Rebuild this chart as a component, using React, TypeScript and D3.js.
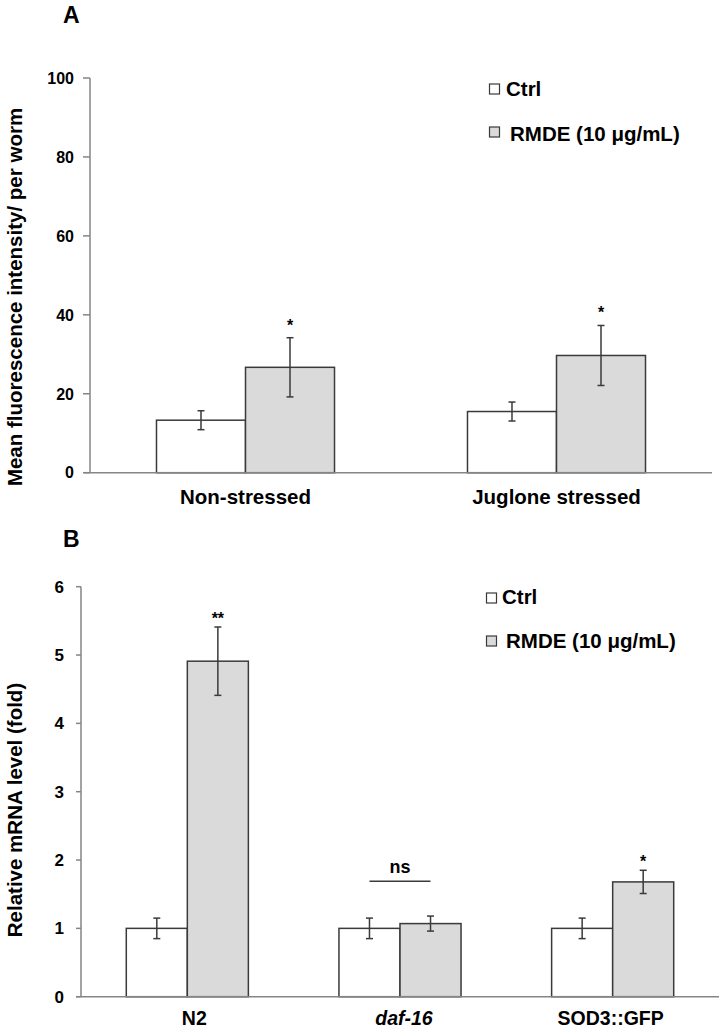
import React from "react";
import * as d3 from "d3";

// ---------- Data ----------
const seriesNames = ["Ctrl", "RMDE (10 μg/mL)"];
const seriesFill = ["#ffffff", "#dadada"];

const categoriesA = ["Non-stressed", "Juglone stressed"];
const ctrlA = [13.3, 15.5];
const ctrlErrA = [2.4, 2.4];
const rmdeA = [26.7, 29.7];
const rmdeErrA = [7.5, 7.6];
const sigA = ["*", "*"];
const ticksA = [0, 20, 40, 60, 80, 100];

const categoriesB = ["N2", "daf-16", "SOD3::GFP"];
const italicB = [false, true, false];
const ctrlB = [1.0, 1.0, 1.0];
const ctrlErrB = [0.15, 0.15, 0.15];
const rmdeB = [4.91, 1.07, 1.68];
const rmdeErrB = [0.5, 0.11, 0.17];
const sigB = ["**", "", "*"];
const nsLevelB = 1.69;
const nsCategoryB = "daf-16";
const ticksB = [0, 1, 2, 3, 4, 5, 6];

const FONT = "'Liberation Sans', Arial, Helvetica, sans-serif";
const AXIS = "#858585";
const EDGE = "#3a3a3a";

type PanelProps = {
  letter: string;
  letterPos: [number, number];
  yLabel: string;
  yLabelPos: [number, number];
  yLabelFont: number;
  categories: string[];
  italic?: boolean[];
  ctrl: number[];
  ctrlErr: number[];
  rmde: number[];
  rmdeErr: number[];
  sig: string[];
  sigGap: number;
  sigSize: number;
  ticks: number[];
  yMax: number;
  x0: number;
  x1: number;
  xAxisStart: number;
  y0: number;
  y1: number;
  tickLen: number;
  tickGap: number;
  tickFont: number;
  catFont: number;
  catBaseline: number;
  catOffset?: number[];
  pad: number;
  legend: { x: number; y: number[]; textX: number[]; base: number[] };
  ns?: { level: number; cat: string; text: string };
};

function Panel(p: PanelProps) {
  const y = d3.scaleLinear().domain([0, p.yMax]).range([p.y0, p.y1]);
  const xBand = d3
    .scaleBand<string>()
    .domain(p.categories)
    .range([p.x0, p.x1])
    .paddingInner(0)
    .paddingOuter(0);
  const xSub = d3
    .scaleBand<string>()
    .domain(seriesNames)
    .range([0, xBand.bandwidth()])
    .paddingInner(0)
    .paddingOuter(p.pad);
  const bw = xSub.bandwidth();
  const cap = 3.5;

  const groups = p.categories.map((c, i) => ({
    c,
    i,
    vals: [
      { s: seriesNames[0], v: p.ctrl[i], e: p.ctrlErr[i], fill: seriesFill[0], sig: "" },
      { s: seriesNames[1], v: p.rmde[i], e: p.rmdeErr[i], fill: seriesFill[1], sig: p.sig[i] },
    ],
  }));

  return (
    <g fontFamily={FONT}>
      <text x={p.letterPos[0]} y={p.letterPos[1]} fontSize={23} fontWeight="bold">
        {p.letter}
      </text>
      <text
        transform={`translate(${p.yLabelPos[0]},${p.yLabelPos[1]}) rotate(-90)`}
        textAnchor="middle"
        fontSize={p.yLabelFont}
        fontWeight="bold"
      >
        {p.yLabel}
      </text>

      {/* y axis */}
      <line x1={p.x0} x2={p.x0} y1={y(p.yMax)} y2={y(0)} stroke={AXIS} strokeWidth={1.5} />
      {p.ticks.map((t) => (
        <g key={t}>
          <line x1={p.x0 - p.tickLen} x2={p.x0} y1={y(t)} y2={y(t)} stroke={AXIS} strokeWidth={1.5} />
          <text
            x={p.x0 - p.tickLen - p.tickGap}
            y={y(t)}
            dy="0.36em"
            textAnchor="end"
            fontSize={p.tickFont}
            fontWeight="bold"
          >
            {t}
          </text>
        </g>
      ))}

      {/* bars */}
      {groups.map((g) => (
        <g key={g.c} transform={`translate(${xBand(g.c)},0)`}>
          {g.vals.map((d) => {
            const bx = xSub(d.s) as number;
            const cx = bx + bw / 2;
            return (
              <g key={d.s}>
                <rect
                  x={bx}
                  y={y(d.v)}
                  width={bw}
                  height={y(0) - y(d.v)}
                  fill={d.fill}
                  stroke={EDGE}
                  strokeWidth={1.5}
                />
                <line x1={cx} x2={cx} y1={y(d.v + d.e)} y2={y(d.v - d.e)} stroke={EDGE} strokeWidth={1.5} />
                <line x1={cx - cap} x2={cx + cap} y1={y(d.v + d.e)} y2={y(d.v + d.e)} stroke={EDGE} strokeWidth={1.5} />
                <line x1={cx - cap} x2={cx + cap} y1={y(d.v - d.e)} y2={y(d.v - d.e)} stroke={EDGE} strokeWidth={1.5} />
                {d.sig ? (
                  <text
                    x={cx}
                    y={y(d.v + d.e) - p.sigGap}
                    textAnchor="middle"
                    fontSize={p.sigSize}
                    fontWeight="bold"
                  >
                    {d.sig}
                  </text>
                ) : null}
              </g>
            );
          })}
          <text
            x={xBand.bandwidth() / 2 + (p.catOffset ? p.catOffset[g.i] : 0)}
            y={p.catBaseline}
            textAnchor="middle"
            fontSize={p.catFont}
            fontWeight="bold"
            fontStyle={p.italic && p.italic[g.i] ? "italic" : "normal"}
          >
            {g.c}
          </text>
        </g>
      ))}

      {/* ns bracket */}
      {p.ns
        ? (() => {
            const bx = xBand(p.ns.cat) as number;
            const xl = bx + (xSub(seriesNames[0]) as number) + bw / 2;
            const xr = bx + (xSub(seriesNames[1]) as number) + bw / 2;
            return (
              <g>
                <line x1={xl} x2={xr} y1={y(p.ns.level)} y2={y(p.ns.level)} stroke={EDGE} strokeWidth={1.5} />
                <text
                  x={(xl + xr) / 2}
                  y={y(p.ns.level) - 8}
                  textAnchor="middle"
                  fontSize={18}
                  fontWeight="bold"
                >
                  {p.ns.text}
                </text>
              </g>
            );
          })()
        : null}

      {/* x axis */}
      <line x1={p.xAxisStart} x2={p.x1} y1={y(0)} y2={y(0)} stroke={AXIS} strokeWidth={1.5} />

      {/* legend */}
      {seriesNames.map((s, i) => (
        <g key={s}>
          <rect
            x={p.legend.x}
            y={p.legend.y[i]}
            width={10}
            height={10}
            fill={seriesFill[i]}
            stroke={EDGE}
            strokeWidth={1.2}
          />
          <text x={p.legend.textX[i]} y={p.legend.base[i]} fontSize={20.5} fontWeight="bold">
            {s}
          </text>
        </g>
      ))}
    </g>
  );
}

export default function App() {
  return (
    <svg
      width={724}
      height={1030}
      style={{ position: "absolute", left: 0, top: 0, background: "#fff" }}
    >
      <rect width={724} height={1030} fill="#fff" />
      <Panel
        letter="A"
        letterPos={[63, 23]}
        yLabel="Mean fluorescence intensity/ per worm"
        yLabelPos={[22, 297]}
        yLabelFont={20.5}
        categories={categoriesA}
        ctrl={ctrlA}
        ctrlErr={ctrlErrA}
        rmde={rmdeA}
        rmdeErr={rmdeErrA}
        sig={sigA}
        sigGap={7}
        sigSize={16}
        ticks={ticksA}
        yMax={100}
        x0={90}
        x1={712}
        xAxisStart={84}
        y0={472.7}
        y1={78}
        tickLen={7}
        tickGap={9}
        tickFont={16}
        catFont={20.5}
        catBaseline={504}
        pad={0.747}
        legend={{ x: 489.5, y: [84, 127], textX: [506, 510], base: [96, 141] }}
      />
      <Panel
        letter="B"
        letterPos={[63, 547]}
        yLabel="Relative mRNA level (fold)"
        yLabelPos={[22, 810]}
        yLabelFont={20.5}
        categories={categoriesB}
        italic={italicB}
        ctrl={ctrlB}
        ctrlErr={ctrlErrB}
        rmde={rmdeB}
        rmdeErr={rmdeErrB}
        sig={sigB}
        sigGap={3}
        sigSize={16}
        ticks={ticksB}
        yMax={6}
        x0={81}
        x1={719}
        xAxisStart={76}
        y0={996.7}
        y1={586.7}
        tickLen={5}
        tickGap={12}
        tickFont={17}
        catFont={19.5}
        catBaseline={1025}
        catOffset={[7, 4, -2]}
        pad={0.742}
        legend={{ x: 486.5, y: [593, 636], textX: [502, 506], base: [604, 648] }}
        ns={{ level: nsLevelB, cat: nsCategoryB, text: "ns" }}
      />
    </svg>
  );
}
